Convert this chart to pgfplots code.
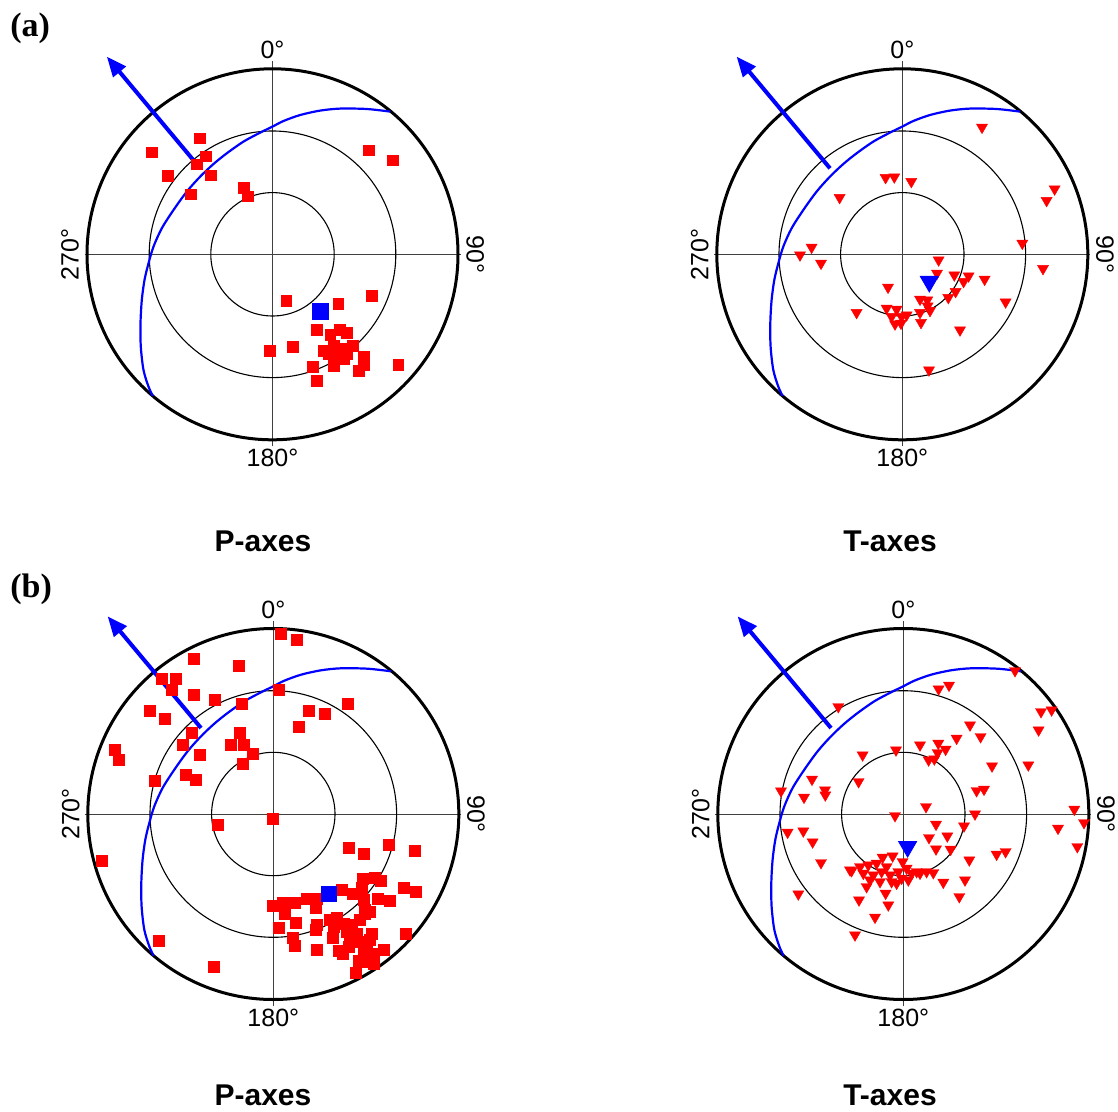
\documentclass[border=0pt]{standalone}
\usepackage{pgfplots}
\pgfplotsset{compat=1.18}
\usepackage{fontspec}
\setmainfont{Liberation Sans}
\newfontfamily\seriffont{Liberation Serif}
\usetikzlibrary{arrows.meta}

\pgfplotsset{stereo/.style={hide axis, scale only axis, width=200pt, height=200pt,
  xmin=-200, xmax=200, ymin=-200, ymax=200, clip=false, anchor=center},
  psq/.style={only marks, mark=square*, mark size=2.7pt, mark options={fill=red, draw=red, line width=0.2pt}},
  ptri/.style={only marks, mark=triangle*, mark size=3.2pt, mark options={rotate=180, fill=red, draw=red, line width=0.2pt}}}

\newcommand{\stereoframe}{%
  \draw[black!75, line width=0.5pt] (axis cs:-188,0) -- (axis cs:188,0);
  \draw[black!75, line width=0.5pt] (axis cs:0,-192) -- (axis cs:0,193);
  \draw[line width=0.55pt] (axis cs:0,0) circle[radius=30.85pt];
  \draw[line width=0.55pt] (axis cs:0,0) circle[radius=61.65pt];
  \draw[line width=1.5pt] (axis cs:0,0) circle[radius=92.75pt];
  \addplot[blue, line width=1.1pt, smooth, no marks] coordinates {
    (117.7,142.7) (94.3,145.3) (67.7,145.7) (47.7,143.7) (27.7,139.3) (11,133.3)
    (0,127.7) (-12.3,121.7) (-29,112.7) (-45.7,101) (-59,90.3) (-72.3,77.7)
    (-85.7,62.7) (-99,44.3) (-110.7,26) (-119,7.7) (-124,-9) (-128,-25.7)
    (-130.7,-45.7) (-132,-69) (-131.7,-92.3) (-129,-115.7) (-124,-132.3) (-119.7,-141.7)};
  \draw[blue, line width=2pt, -{Triangle[length=10pt,width=8pt]}] (axis cs:-72.3,86) -- (axis cs:-165.7,197.7);
  \node[anchor=base, inner sep=0pt, font=\fontsize{12.5}{14}\selectfont] at (axis cs:0,196) {0°};
  \node[anchor=base, inner sep=0pt, font=\fontsize{12.5}{14}\selectfont] at (axis cs:0,-212) {180°};
  \node[anchor=base, inner sep=0pt, rotate=-90, font=\fontsize{12.5}{14}\selectfont] at (axis cs:194,0) {90°};
  \node[anchor=base, inner sep=0pt, rotate=90, font=\fontsize{12.5}{14}\selectfont] at (axis cs:-194,0) {270°};
}

\begin{document}
\begin{tikzpicture}
\useasboundingbox (0,0) rectangle (559pt,-556pt);

% (a) P-axes
\begin{axis}[stereo, at={(136.25pt,-127.15pt)}]
\stereoframe
\addplot[psq] coordinates {
(-73,116) (-121,102) (-67,98) (-75.7,90) (-105,78.3) (-62,79) (-82,60) (-29,66.3) (-25,58)
(96,104) (120,94) (13.7,-46) (65.7,-49.7) (99,-41) (44,-75) (67,-75) (57.7,-80) (74.3,-78)
(-3,-96) (20,-92.7) (51,-96) (61,-91.7) (71,-94) (80.3,-91.7) (64.3,-99.3) (74.3,-99.3)
(91,-102.3) (71,-104.3) (91,-110.7) (40,-112.7) (61,-111.7) (86,-116.7) (125.7,-110.7)
(44,-126.7) (56,-99)};
\addplot[only marks, mark=square*, mark size=3.9pt, mark options={fill=blue, draw=blue}] coordinates {(47.7,-57.3)};
\end{axis}

% (a) T-axes
\begin{axis}[stereo, at={(451.15pt,-127.15pt)}]
\stereoframe
\addplot[ptri] coordinates {
(79.7,127) (-16.7,76.7) (-8,77.3) (9,72.7) (-62.7,56.7) (152.3,65.3) (144.3,53.7) (120,11)
(-90.7,7) (-102.3,-0.7) (-81.3,-9) (140.7,-14.3) (36.3,-5.7) (34.7,-19) (52,-20.7)
(66.3,-21.7) (61.3,-27.3) (82.3,-25) (53.3,-37.3) (46,-43.3) (-14.3,-33) (103.3,-47.7)
(17.7,-45) (25,-45.7) (25.3,-51.7) (27.7,-56.3) (17.7,-58.3) (18.7,-68.3) (-45.7,-58.3)
(-15.7,-54) (-5.7,-55) (-10.7,-62.3) (-0.7,-62.3) (4.3,-60.7) (-7.3,-69.7) (-1.3,-69)
(57.7,-75.7) (26.7,-115.7)};
\addplot[only marks, mark=triangle*, mark size=5.2pt, mark options={rotate=180, fill=blue, draw=blue}] coordinates {(27,-27.3)};
\end{axis}

% (b) P-axes
\begin{axis}[stereo, at={(136.65pt,-407pt)}]
\stereoframe
\addplot[psq] coordinates {
(7.7,180.7) (23,174) (-80,155.7) (-35,148) (-111.7,135.7) (-97.7,135) (-102,124.7) (-80,119)
(-58.3,114) (-32,110.7) (5,124) (-124,103) (-109,95) (-81.7,81.7) (-91,69) (-73.3,59)
(-33.3,81.7) (-42.7,69) (-29.3,69) (-21,60) (-31,50.7) (-88,39) (-77.3,34) (-119,33)
(-159,64.7) (-155,54) (35,103) (51,100) (74,110.7) (25,87)
(-1,-4.3) (-56,-11) (-172,-47) (75,-33.3) (90.7,-39.3) (115,-31) (141,-36.3) (-115,-126.3)
(-60,-152.3) (89,-64.3) (101.7,-63.3) (107.3,-66.7) (130,-73.3) (142,-77.3) (68.3,-75.3)
(79,-79.3) (88.3,-73.3) (104,-84.3) (116.7,-87) (90.7,-86) (-1,-92) (9,-88.3) (21.7,-88.3)
(33.3,-85) (43.3,-85) (42.7,-93.3) (11.7,-100) (22,-109) (5,-114) (43.3,-110.3) (42.7,-116)
(19,-123.3) (21,-132) (43,-136) (59,-123.7) (65,-137) (69,-139.3) (82.7,-158.7) (132,-119.3)
(110,-136) (100,-149.3) (85,-147) (56.7,-106) (63.3,-103.3) (70,-109.3) (78.3,-111)
(86.7,-106) (91.7,-99.3) (96.7,-97.7) (73.3,-117.7) (83.3,-119.3) (98.3,-119.3) (85,-127.7)
(93.3,-129.3) (100,-139.3) (90,-139.3) (88.3,-147.7) (96.7,-126) (78.3,-126) (60,-112.7)
(75,-132.7) (76.7,-121) (91.7,-96)};
\addplot[only marks, mark=square*, mark size=3.9pt, mark options={fill=blue, draw=blue}] coordinates {(55.7,-79.7)};
\end{axis}

% (b) T-axes
\begin{axis}[stereo, at={(451.65pt,-407pt)}]
\stereoframe
\addplot[ptri] coordinates {
(111.7,143.3) (35.3,125) (45.7,128.7) (-65,107.3) (137.7,102.3) (148.3,104) (135.3,84)
(66.7,89) (77.3,77.3) (53.3,75.7) (16.7,69) (35,70.7) (42.3,64.7) (34.3,61.3) (25.3,54)
(31,55) (-7.3,64) (-40.7,59) (88.7,48) (125,49) (-44.7,32.3) (-91.3,34.7) (-122.3,23)
(-99.3,16.7) (-78.3,24) (-78,19) (73.3,23.3) (80.7,24.7) (22.7,7.3)
(-8.3,-1.7) (71.7,0) (171,4.7) (180.7,-8.7) (154.7,-14.3) (174,-32.7) (32.7,-10.3)
(60.7,-12) (25.7,-23.7) (44,-22) (32.7,-35) (47.3,-35.3) (93.3,-40.3) (102.3,-37.7)
(66,-46) (-115.7,-18.3) (-100,-17) (-90.7,-28) (-82.3,-48.7) (-105,-80) (-51.7,-56.7)
(-44.3,-86) (-15,-91) (-28.3,-103.3) (-48.3,-121) (-17.7,-79.3) (-36.7,-72.7) (30,-58.7)
(40,-68.3) (61.7,-66) (56,-82.7) (16.7,-59.3) (-10.7,-42) (-20.7,-43.3) (-0.7,-47.7)
(-43.3,-52.7) (-35,-51) (-26.7,-49.3) (-40,-59.3) (-30,-61) (-21.7,-57.7) (-13.3,-61)
(-5,-57.7) (3.3,-54.3) (8.3,-59.3) (-1.7,-64.3) (-11.7,-67.7) (-23.3,-67.7) (-33.3,-66)
(-6.7,-69.3) (13.3,-57.7) (-16.7,-52.7) (5,-66) (-53.3,-56) (23.3,-57.7)};
\addplot[only marks, mark=triangle*, mark size=5.2pt, mark options={rotate=180, fill=blue, draw=blue}] coordinates {(4.3,-32.7)};
\end{axis}

\node[anchor=base west, inner sep=0pt, font=\seriffont\bfseries\fontsize{17}{20}\selectfont] at (5pt,-18.5pt) {(a)};
\node[anchor=base west, inner sep=0pt, font=\seriffont\bfseries\fontsize{17}{20}\selectfont] at (5pt,-298.5pt) {(b)};
\node[anchor=base, inner sep=0pt, font=\bfseries\fontsize{15}{18}\selectfont] at (131.5pt,-275.5pt) {P-axes};
\node[anchor=base, inner sep=0pt, font=\bfseries\fontsize{15}{18}\selectfont] at (445pt,-275.5pt) {T-axes};
\node[anchor=base, inner sep=0pt, font=\bfseries\fontsize{15}{18}\selectfont] at (131.5pt,-552.5pt) {P-axes};
\node[anchor=base, inner sep=0pt, font=\bfseries\fontsize{15}{18}\selectfont] at (445pt,-552.5pt) {T-axes};
\end{tikzpicture}
\end{document}
